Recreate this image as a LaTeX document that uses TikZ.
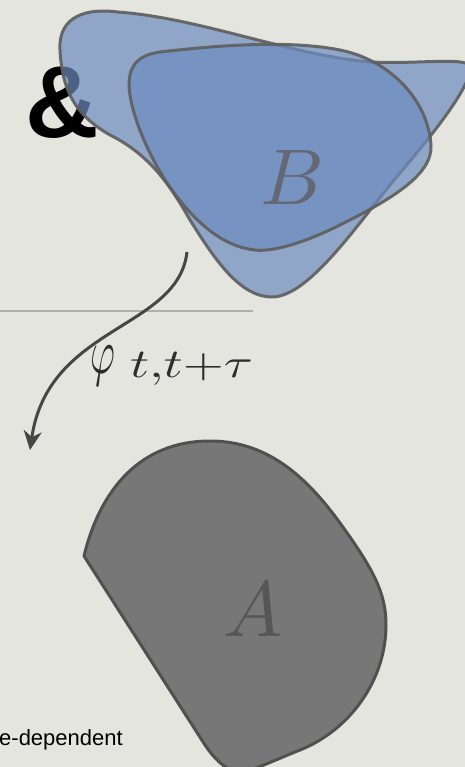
\documentclass[tikz,border=0pt]{standalone}
\usepackage{fontspec}
\newfontfamily\sansfam{Liberation Sans}
\usetikzlibrary{arrows.meta}
\definecolor{bgc}{RGB}{229,229,223}
\definecolor{bluec}{RGB}{108,140,192}
\definecolor{edgec}{RGB}{95,95,95}
\definecolor{grayfill}{RGB}{119,119,119}
\definecolor{grayedge}{RGB}{80,80,80}
\definecolor{arrowc}{RGB}{70,70,70}
\definecolor{rulec}{RGB}{176,176,170}
\definecolor{lettB}{RGB}{100,104,116}
\definecolor{lettA}{RGB}{86,86,86}
\tikzset{
  blob/.style={fill=bluec, fill opacity=0.7, draw=edgec, draw opacity=0.92, line width=3pt, line join=round},
  grayblob/.style={fill=grayfill, draw=grayedge, line width=3pt, line join=round},
  biglet/.style={inner sep=0pt, scale=7.9},
  mapArrow/.style={draw=arrowc, line width=3pt, -{Stealth[length=19pt,width=18pt,inset=6pt]}},
}
\begin{document}
\begin{tikzpicture}[x=1pt,y=-1pt]
\useasboundingbox (0,0) rectangle (465,767);
\fill[bgc] (0,0) rectangle (465,767);
% rule
\coordinate (ruleL) at (0,311);
\coordinate (ruleR) at (253,311);
\draw[rulec, line width=1.3pt] (ruleL) -- (ruleR);
% ampersand
\node (amp) [anchor=base west, inner sep=0pt, font=\sansfam\bfseries\fontsize{102}{104}\selectfont] at (25,138) {\&};
% outer blue set
\path[blob] (60,50) .. controls (58,15) and (88,8) .. (118,12)
  .. controls (200,18) and (290,55) .. (370,62)
  .. controls (420,64) and (455,58) .. (468,64)
  .. controls (478,75) and (445,120) .. (400,173)
  .. controls (360,220) and (310,297) .. (272,297)
  .. controls (240,297) and (215,260) .. (190,220)
  .. controls (170,185) and (150,155) .. (110,135)
  .. controls (75,115) and (62,90) .. (60,50) -- cycle;
% inner blue set
\path[blob] (160,52) .. controls (220,45) and (290,40) .. (340,50)
  .. controls (390,60) and (428,100) .. (431,145)
  .. controls (433,175) and (390,200) .. (340,225)
  .. controls (300,245) and (270,252) .. (255,250)
  .. controls (225,247) and (195,225) .. (165,180)
  .. controls (140,140) and (125,95) .. (130,75)
  .. controls (133,60) and (145,54) .. (160,52) -- cycle;
\node (B) [biglet, text=lettB] at (292,178) {$B$};
% map arrow
\coordinate (arrS) at (187,252);
\coordinate (arrE) at (30,450);
\draw[mapArrow] (arrS) .. controls (178,330) and (48,325) .. (arrE);
\node (lbl) [anchor=base west, inner sep=0pt, scale=4, text={rgb,255:red,45;green,45;blue,45}] at (90,373)
  {\scalebox{0.95}[1.6]{$\varphi$}\hspace{3.6pt}\raisebox{-1.1pt}{\scalebox{1.32}[1.02]{$t{,}t{+}\tau$}}};
% gray set A
\path[grayblob] (84,556) .. controls (100,490) and (140,441) .. (210,441)
  .. controls (270,441) and (310,480) .. (345,530)
  .. controls (375,572) and (386,595) .. (386,625)
  .. controls (386,680) and (350,730) .. (300,750)
  .. controls (270,762) and (250,772) .. (240,772)
  .. controls (228,772) and (215,760) .. (205,745) -- cycle;
\node (A) [biglet, text=lettA] at (253,610) {$A$};
% bottom text
\node (txt) [anchor=base west, inner sep=0pt, font=\sansfam\fontsize{22}{25}\selectfont, text=black] at (-1,745) {e-dependent};
\end{tikzpicture}
\end{document}
